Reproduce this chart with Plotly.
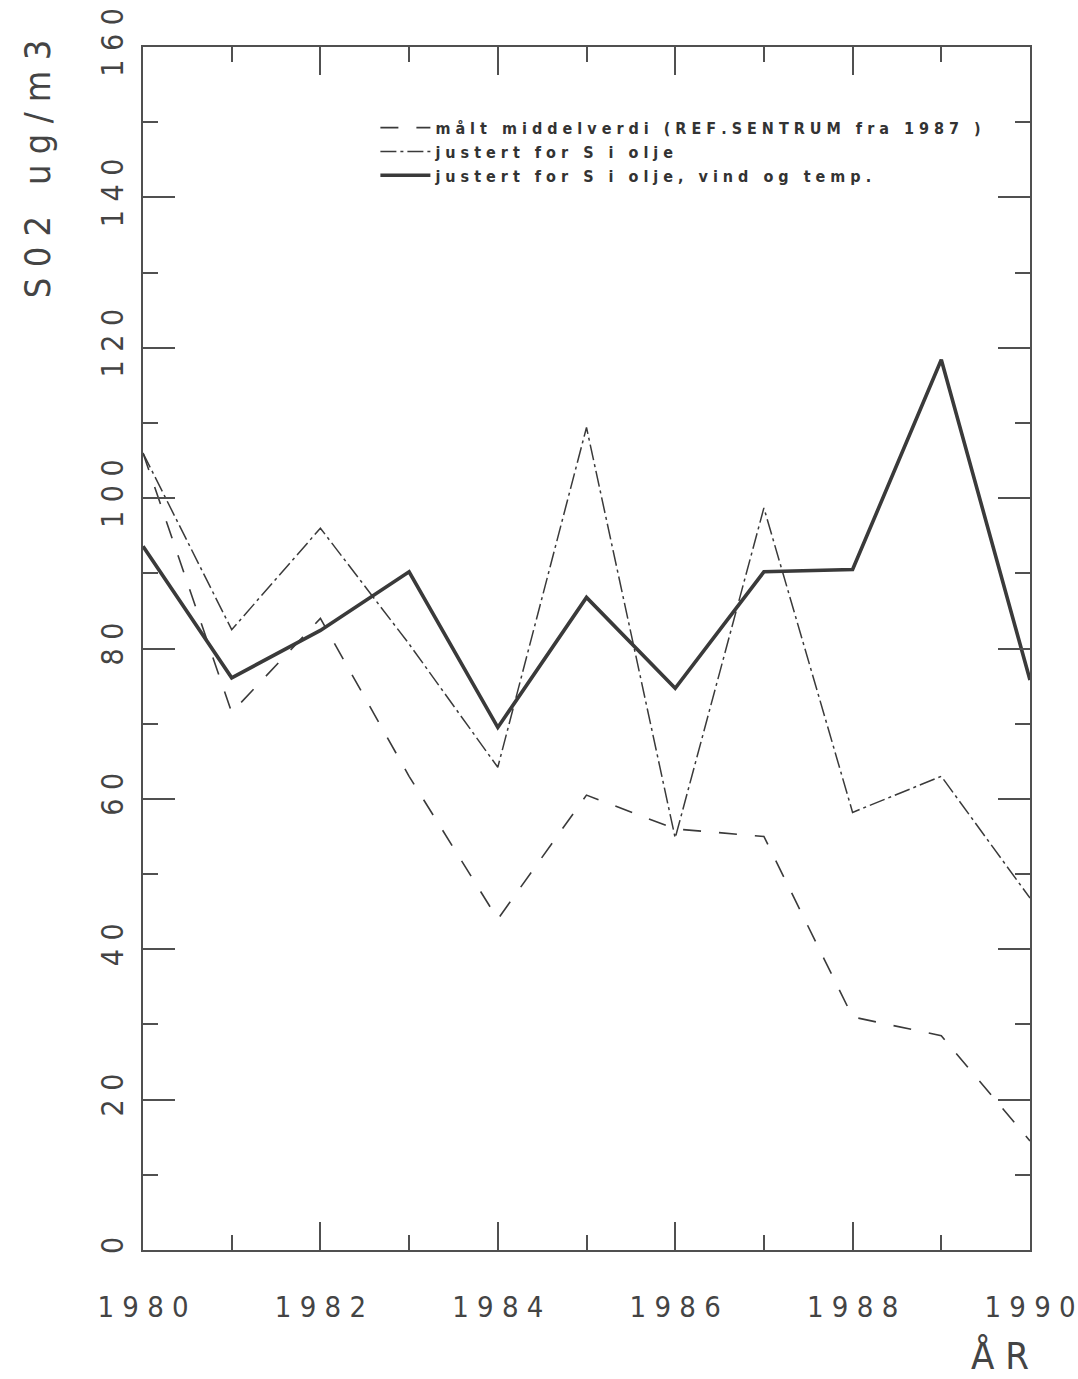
import plotly.graph_objects as go

years = list(range(1980, 1991))
malt = [106, 71.5, 84, 63, 44, 60.5, 56, 55, 31, 28.5, 14.5]
justert_s = [106, 82.5, 96, 80.6, 64.2, 109.4, 54.8, 98.7, 58.2, 63, 46.8]
justert_svt = [93.6, 76.1, 82.4, 90.2, 69.5, 86.8, 74.7, 90.2, 90.5, 118.4, 75.8]

names = ["målt middelverdi (REF.SENTRUM fra 1987 )",
         "justert for S i olje",
         "justert for S i olje, vind og temp."]

x_tickvals = [1980, 1982, 1984, 1986, 1988, 1990]
y_tickvals = [0, 20, 40, 60, 80, 100, 120, 140, 160]


def spaced(s, gap=" "):
    words = s.split(" ")
    return "   ".join(gap.join(list(w)) for w in words)


INK = "#3a3a3a"
AX = "#505050"
FONT = "DejaVu Sans Condensed"

fig = go.Figure()
fig.add_trace(go.Scatter(x=years, y=malt, mode="lines", name=spaced(names[0]),
                         line=dict(color=INK, width=1.6, dash="18px,18px")))
fig.add_trace(go.Scatter(x=years, y=justert_s, mode="lines", name=spaced(names[1]),
                         line=dict(color=INK, width=1.5, dash="16px,4px,3px,4px")))
fig.add_trace(go.Scatter(x=years, y=justert_svt, mode="lines", name=spaced(names[2]),
                         line=dict(color=INK, width=3.6)))

fig.update_layout(
    width=1078, height=1379,
    margin=dict(l=143, r=48, t=47, b=129, autoexpand=False),
    paper_bgcolor="white", plot_bgcolor="white",
    showlegend=True,
    legend=dict(x=0.262, y=0.947, xanchor="left", yanchor="top",
                bgcolor="rgba(0,0,0,0)", itemwidth=50,
                font=dict(family="DejaVu Sans Condensed", size=16, color="#333", weight="bold"),
                tracegroupgap=0),
)

fig.update_xaxes(
    range=[1980, 1990], tickvals=x_tickvals,
    ticktext=[spaced(str(v)) for v in x_tickvals],
    ticks="inside", ticklen=28, tickwidth=1.5, tickcolor=AX,
    minor=dict(dtick=1, tick0=1980, ticks="inside", ticklen=15, tickwidth=1.5, tickcolor=AX),
    showline=True, linecolor=AX, linewidth=2, mirror="allticks",
    showgrid=False, zeroline=False, ticklabelstandoff=30,
    ticklabeloverflow="allow", automargin=False,
    tickfont=dict(family=FONT, size=29, color="#444"),
)
fig.update_yaxes(
    range=[0, 160], tickvals=y_tickvals,
    ticktext=[spaced(str(v)) for v in y_tickvals],
    tickangle=-90,
    ticks="inside", ticklen=32, tickwidth=1.5, tickcolor=AX,
    minor=dict(dtick=10, tick0=0, ticks="inside", ticklen=15, tickwidth=1.5, tickcolor=AX),
    showline=True, linecolor=AX, linewidth=2, mirror="allticks",
    showgrid=False, zeroline=False, ticklabelstandoff=6,
    ticklabeloverflow="allow", automargin=False,
    tickfont=dict(family=FONT, size=30, color="#444"),
)

fig.add_annotation(text=spaced("S02") + "   " + spaced("ug/m3"),
                   xref="paper", yref="paper", x=-0.118, y=1.008,
                   xanchor="center", yanchor="top", textangle=-90, showarrow=False,
                   font=dict(family=FONT, size=36, color="#444"))
fig.add_annotation(text=spaced("ÅR"),
                   xref="paper", yref="paper", x=0.966, y=-0.108,
                   xanchor="center", yanchor="bottom", showarrow=False,
                   font=dict(family=FONT, size=38, color="#444"))

fig.write_html("out.html")
